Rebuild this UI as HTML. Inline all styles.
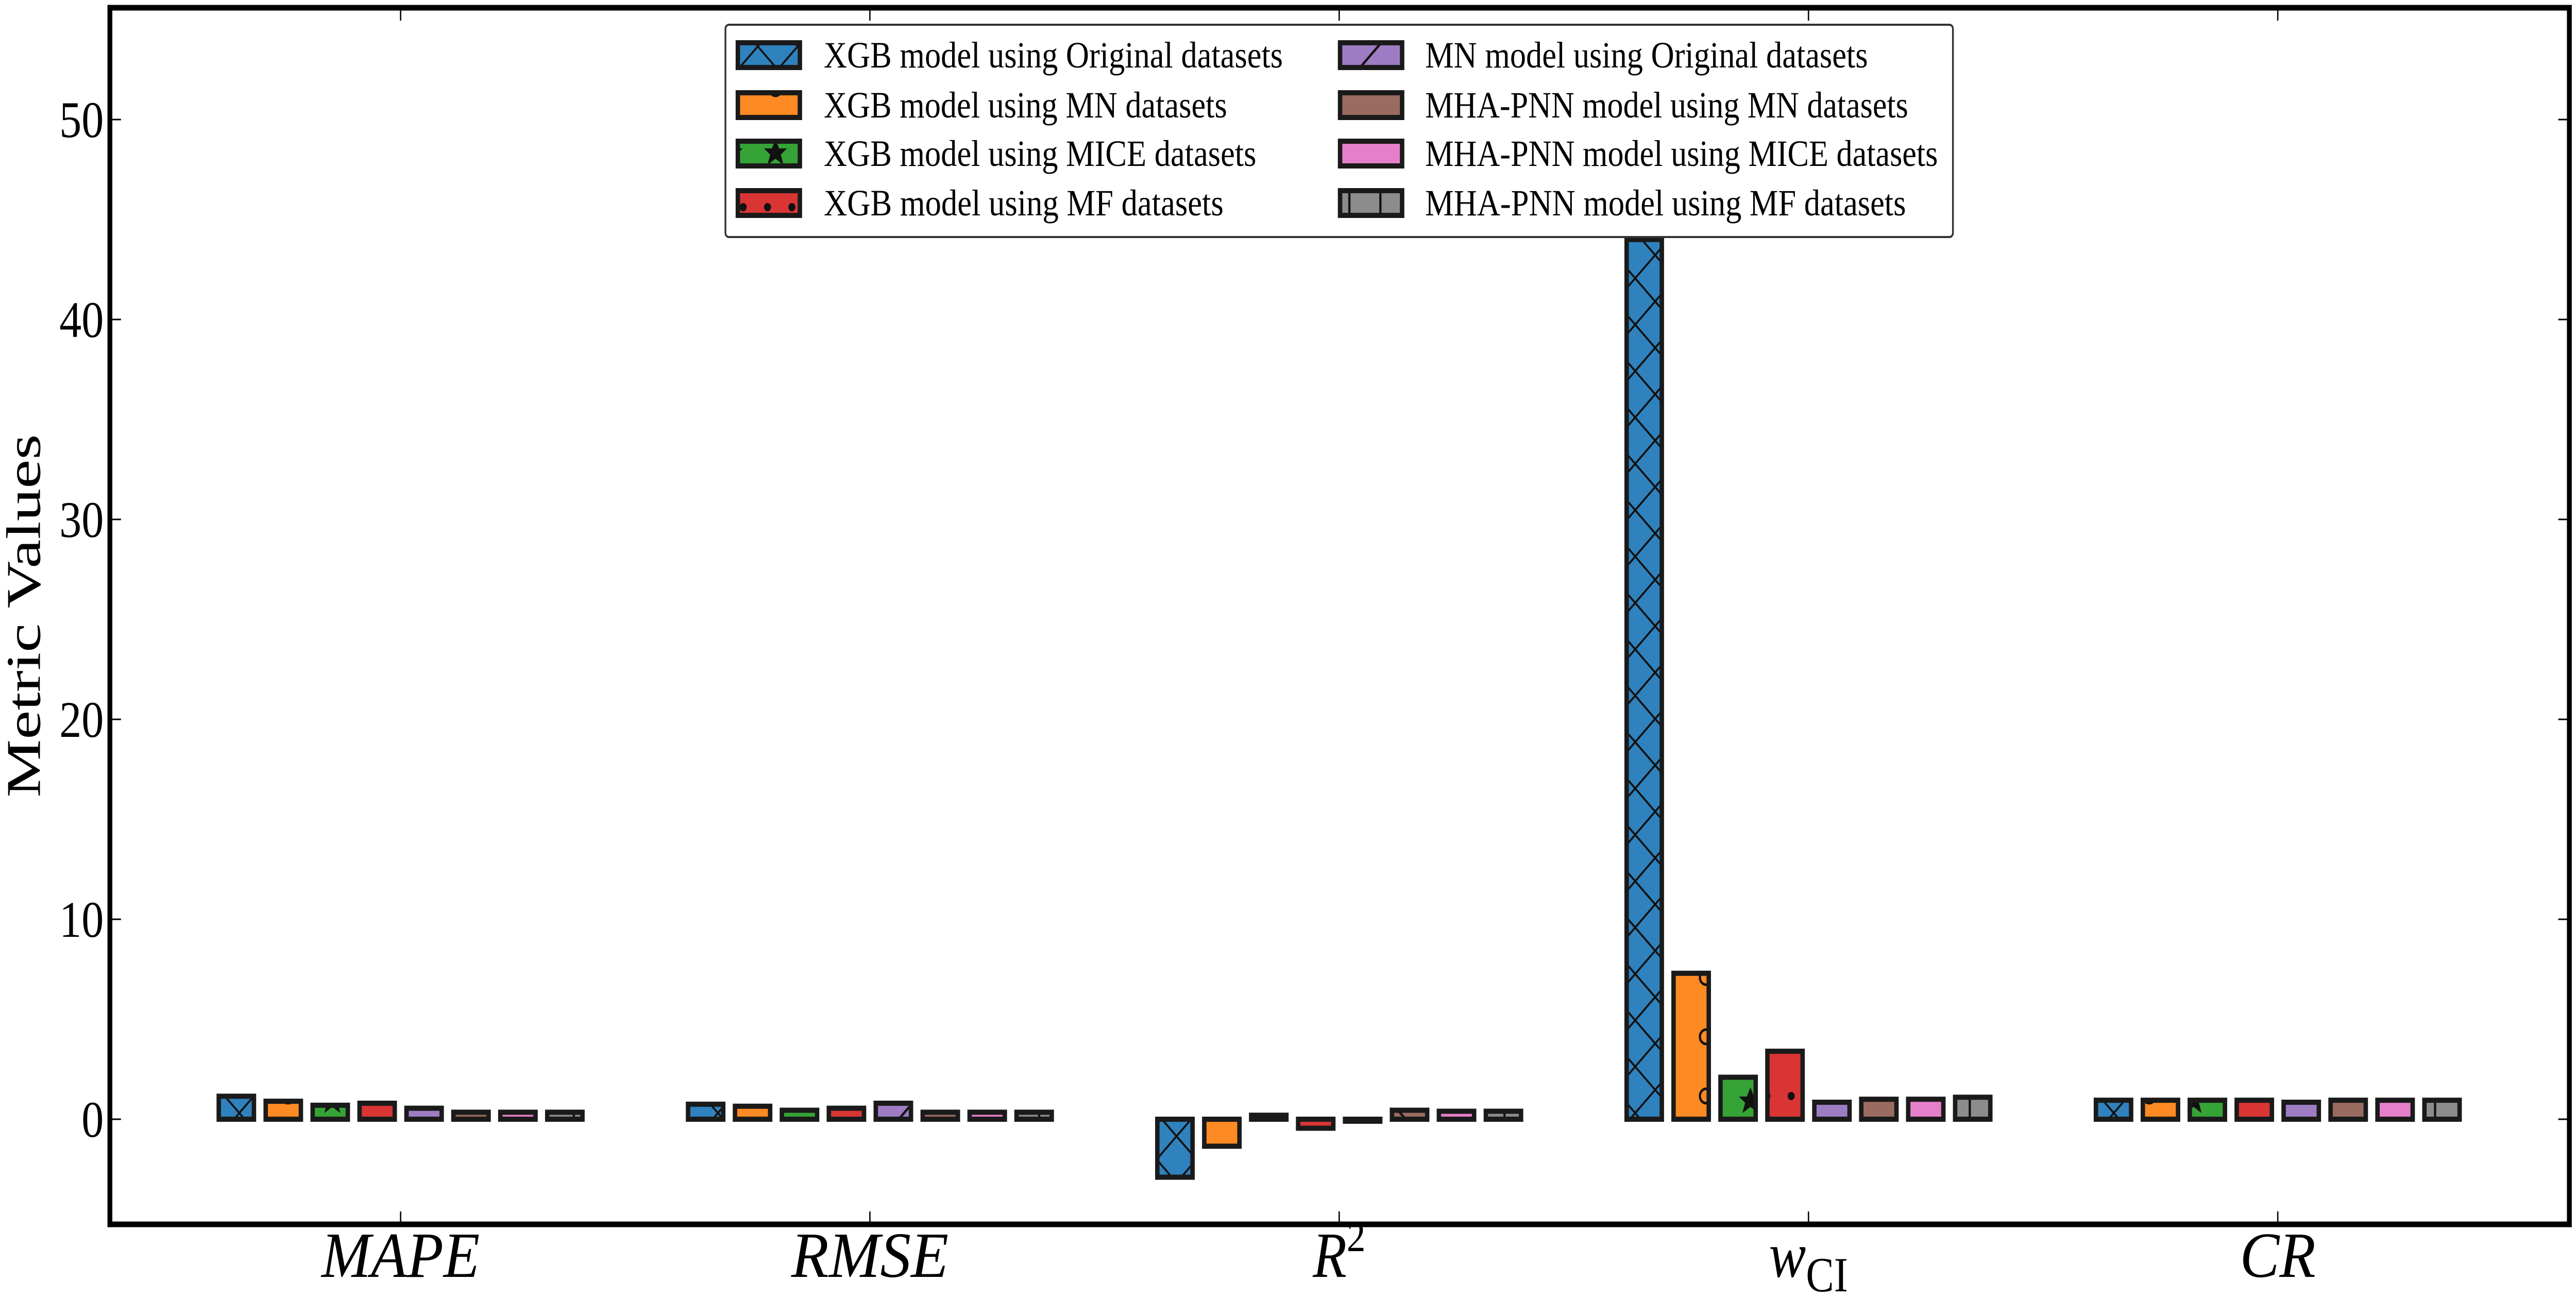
<!DOCTYPE html>
<html><head><meta charset="utf-8"><style>
html,body{margin:0;padding:0;background:#fff;overflow:hidden;width:100%;height:100%;}
svg{display:block;width:100vw;height:100vh;}
text{font-family:"Liberation Serif",serif;fill:#000;}
</style></head><body>
<svg id="chart" xmlns="http://www.w3.org/2000/svg" viewBox="0 0 5813 2517" preserveAspectRatio="none">
<defs>
<pattern id="h0" patternUnits="userSpaceOnUse" width="90" height="90"><path d="M0 0L90 90M90 0L0 90" stroke="#111" stroke-width="4"/></pattern>
<pattern id="h1" patternUnits="userSpaceOnUse" width="100" height="115"><circle cx="50" cy="57" r="14" fill="none" stroke="#111" stroke-width="5"/></pattern>
<pattern id="h2" patternUnits="userSpaceOnUse" width="100" height="115"><path d="M50 40l8 18h18l-14 12 6 20-18-12-18 12 6-20-14-12h18z" fill="#111"/></pattern>
<pattern id="h3" patternUnits="userSpaceOnUse" width="55" height="115"><circle cx="27" cy="57" r="8" fill="#111"/></pattern>
<pattern id="h4" patternUnits="userSpaceOnUse" width="200" height="200"><path d="M0 200L200 0" stroke="#111" stroke-width="5"/></pattern>
<pattern id="h5" patternUnits="userSpaceOnUse" width="200" height="200"><path d="M0 0L200 200" stroke="#111" stroke-width="5"/></pattern>
<pattern id="h7" patternUnits="userSpaceOnUse" width="70" height="200"><path d="M35 0V200" stroke="#111" stroke-width="5"/></pattern>
</defs>
<g id="bars"></g>
<g id="axes"></g>
<g id="legend"></g>
</svg>
<script>
const categories = ["MAPE","RMSE","R2","wCI","CR"];
const seriesNames = ["XGB model using Original datasets","XGB model using MN datasets","XGB model using MICE datasets","XGB model using MF datasets","MN model using Original datasets","MHA-PNN model using MN datasets","MHA-PNN model using MICE datasets","MHA-PNN model using MF datasets"];
const xgbOriginal = [1.15, 0.75, -2.9, 44.0, 0.95];
const xgbMN = [0.9, 0.65, -1.35, 7.3, 0.95];
const xgbMICE = [0.7, 0.45, 0.2, 2.1, 0.95];
const xgbMF = [0.8, 0.55, -0.45, 3.4, 0.95];
const mnOriginal = [0.55, 0.8, -0.1, 0.85, 0.85];
const mhaMN = [0.35, 0.35, 0.45, 1.0, 0.95];
const mhaMICE = [0.35, 0.35, 0.4, 1.0, 0.95];
const mhaMF = [0.35, 0.35, 0.4, 1.1, 0.95];
const yTicks = [0,10,20,30,40,50];

const series = [xgbOriginal,xgbMN,xgbMICE,xgbMF,mnOriginal,mhaMN,mhaMICE,mhaMF];
const colors = ["#2f82bd","#fd8a22","#36a336","#d93535","#9e7cc4","#9a6b5f","#e67fc9","#8c8c8c"];
const hatches = ["h0","h1","h2","h3","h4","h5",null,"h7"];
const legendWidths = [1036,910,976,902,999,1090,1157,1085];
const NS="http://www.w3.org/2000/svg";
const L=248,R=5798,T=15,B=2376;
const Y0=2172, PX=38.8;
function yS(v){return Y0-v*PX;}
function xS(c){return 904+1059*c;}
function mk(tag,attrs,parent){const e=document.createElementNS(NS,tag);for(const k in attrs)e.setAttribute(k,attrs[k]);parent.appendChild(e);return e;}
const gb=document.getElementById('bars'),ga=document.getElementById('axes'),gl=document.getElementById('legend');
const bw=0.075*1059;
series.forEach((vals,s)=>{
  vals.forEach((v,c)=>{
    const cx=xS(c+(s-3.5)*0.1);
    const y1=Math.min(yS(v),yS(0)),h=Math.abs(yS(v)-yS(0));
    const r=mk('rect',{x:cx-bw/2,y:y1,width:bw,height:h,fill:colors[s]},gb);
    
    
    if(hatches[s]){const hr=mk('rect',{x:cx-bw/2,y:y1,width:bw,height:h,fill:'url(#'+hatches[s]+')'},gb);
      
      }
    const o=mk('rect',{x:cx-bw/2,y:y1,width:bw,height:h,fill:'none',stroke:'#1a1a1a','stroke-width':10},gb);
    
    
  });
});
const fr=mk('rect',{x:L,y:T,width:R-L,height:B-T,fill:'none',stroke:'#000','stroke-width':11},ga);


yTicks.forEach(t=>{
  const y=yS(t);
  const tk=mk('path',{d:`M${L} ${y}h25M${R} ${y}h-25`,stroke:'#000','stroke-width':3},ga);
  
  
  const tx=mk('text',{x:L-14,y:y+34,'text-anchor':'end','font-size':100},ga);
  tx.textContent=t;
  
  
});
const xl=[["MAPE"],["RMSE"],["R","2"],["w","CI"],["CR"]];
const xlw=[357,355,139,173,171];
categories.forEach((c,i)=>{
  const x=xS(i);
  const tk=mk('path',{d:`M${x} ${B}v-25M${x} ${T}v25`,stroke:'#000','stroke-width':3},ga);
  
  
  const tx=mk('text',{x:x,y:2478,'text-anchor':'middle','font-size':125,'font-style':'italic'},ga);
  
  
  if(!xl[i][1]){tx.setAttribute('textLength',xlw[i]);tx.setAttribute('lengthAdjust','spacingAndGlyphs');}
  tx.appendChild(document.createTextNode(xl[i][0]));
  if(xl[i][1]){const ts=document.createElementNS(NS,'tspan');
    if(i===2){ts.setAttribute('dy','-50');ts.setAttribute('font-size','85');ts.setAttribute('font-style','normal');}
    else{ts.setAttribute('dy','28');ts.setAttribute('font-size','95');ts.setAttribute('font-style','normal');}
    ts.textContent=xl[i][1];tx.appendChild(ts);}
});
const yl=mk('text',{x:0,y:0,transform:'translate(90 1195) rotate(-90)','text-anchor':'middle','font-size':110,textLength:705,lengthAdjust:'spacingAndGlyphs'},ga);
yl.textContent='Metric Values';


const lb=mk('rect',{x:1637,y:48,width:2770,height:412,rx:8,fill:'#fff',stroke:'#333','stroke-width':4},gl);


const rowsY=[107,204,298,394];
seriesNames.forEach((n,s)=>{
  const col=Math.floor(s/4),row=s%4;
  const sx=col?3024:1665, tx=col?3216:1859, y=rowsY[row];
  const g=mk('g',{},gl);
  
  
  mk('rect',{x:sx,y:y-24,width:140,height:48,fill:colors[s]},g);
  if(hatches[s])mk('rect',{x:sx,y:y-24,width:140,height:48,fill:'url(#'+hatches[s]+')'},g);
  mk('rect',{x:sx,y:y-24,width:140,height:48,fill:'none',stroke:'#1a1a1a','stroke-width':10},g);
  const t=mk('text',{x:tx,y:y+24,'font-size':72,textLength:legendWidths[s],lengthAdjust:'spacingAndGlyphs'},g);
  t.textContent=n;
});
</script>
</body></html>
